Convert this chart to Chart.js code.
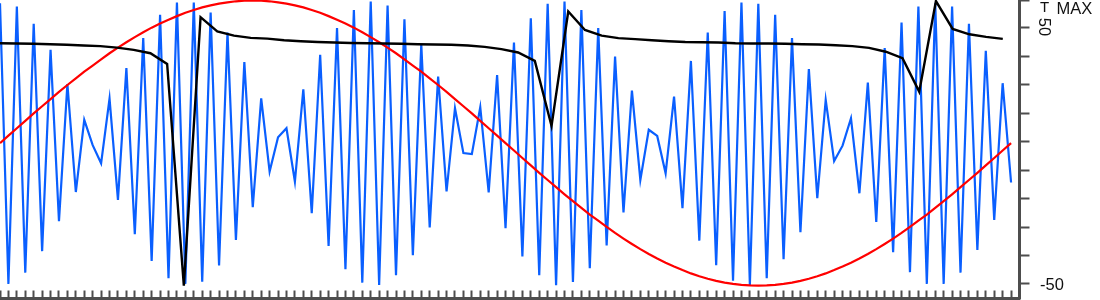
<!DOCTYPE html>
<html>
<head>
<meta charset="utf-8">
<script src="https://cdn.jsdelivr.net/npm/chart.js@4.4.1/dist/chart.umd.min.js"></script>
<style>
  html, body { margin: 0; padding: 0; background: #fff; }
  #wrap { width: 1100px; height: 300px; position: relative; }
</style>
</head>
<body>
<div id="wrap"><canvas id="chart"></canvas></div>
<script>
// x slots: 122 for the fast series, 62 for the slow (black) one
const fastLabels = Array.from({ length: 122 }, (_, i) => i);
const slowLabels = Array.from({ length: 62 }, (_, i) => i);

const blueValues = [
  59.6, -50.0, 58.3, -45.6, 51.6, -37.2, 41.4, -25.5, 28.1, -14.1,
  14.1, 4.2, -2.9, 22.4, -17.2, 34.3, -30.6, 46.0, -41.0, 55.1,
  -47.8, 59.9, -50.0, 59.9, -49.1, 56.0, -42.8, 48.2, -32.8, 36.7,
  -20.0, 22.5, -6.1, 7.3, 10.8, -10.0, 26.0, -22.4, 39.5, -35.2,
  49.9, -44.3, 57.0, -49.5, 60.3, -50.4, 58.7, -46.6, 53.4, -38.8,
  43.6, -27.9, 31.0, -13.9, 18.6, 1.1, 0.7, 19.0, -14.3, 31.6,
  -28.2, 44.3, -39.3, 53.8, -46.6, 59.4, -50.5, 60.3, -49.2, 57.0,
  -43.9, 49.9, -35.0, 38.8, -22.1, 25.5, -9.4, 10.2, 7.8, -6.8,
  23.2, -20.4, 37.1, -33.1, 48.2, -42.7, 56.6, -48.8, 59.9, -50.4,
  59.4, -47.8, 55.1, -40.4, 46.0, -29.8, 33.9, -16.5, 21.9, -2.0,
  4.0, 14.7, -14.6, 28.6, -25.8, 42.1, -37.6, 52.1, -45.4, 58.3,
  -50.0, 59.6, -50.0, 58.3, -45.6, 51.6, -36.7, 41.1, -25.0, 28.4,
  -10.4
];

const redValues = [
  5.0, 7.9, 10.8, 13.7, 16.6, 19.4, 22.2, 25.0, 27.7, 30.3,
  32.9, 35.3, 37.7, 40.1, 42.3, 44.4, 46.4, 48.3, 50.1, 51.7,
  53.2, 54.6, 55.9, 57.0, 58.0, 58.8, 59.5, 60.0, 60.4, 60.6,
  60.7, 60.6, 60.4, 60.0, 59.5, 58.8, 58.0, 57.0, 55.9, 54.6,
  53.2, 51.7, 50.1, 48.3, 46.4, 44.4, 42.3, 40.1, 37.7, 35.3,
  32.9, 30.3, 27.7, 25.0, 22.2, 19.4, 16.6, 13.7, 10.8, 7.9,
  5.0, 2.1, -0.8, -3.7, -6.6, -9.4, -12.2, -15.0, -17.7, -20.3,
  -22.9, -25.3, -27.7, -30.1, -32.3, -34.4, -36.4, -38.3, -40.1, -41.7,
  -43.2, -44.6, -45.9, -47.0, -48.0, -48.8, -49.5, -50.0, -50.4, -50.6,
  -50.7, -50.6, -50.4, -50.0, -49.5, -48.8, -48.0, -47.0, -45.9, -44.6,
  -43.2, -41.7, -40.1, -38.3, -36.4, -34.4, -32.3, -30.1, -27.7, -25.3,
  -22.9, -20.3, -17.7, -15.0, -12.2, -9.4, -6.6, -3.7, -0.8, 2.1,
  5.0
];

const blackValues = [
  44.0, 43.9, 43.8, 43.6, 43.4, 43.1, 42.9, 42.3, 41.4, 40.1,
  35.9, -50.7, 54.2, 48.6, 47.0, 46.1, 45.8, 45.2, 44.8, 44.5,
  44.3, 44.1, 44.0, 43.9, 43.8, 43.6, 43.5, 43.4, 43.1, 42.6,
  41.7, 40.4, 37.1, 11.7, 56.4, 49.2, 47.0, 46.0, 45.6, 45.2,
  44.8, 44.5, 44.4, 44.3, 44.0, 43.9, 43.9, 43.8, 43.6, 43.5,
  43.2, 42.9, 42.2, 40.7, 38.2, 25.1, 60.5, 49.6, 47.5, 46.5,
  45.7
];

const yMin = -55.7;
const yMax = 60.9;
const yTicks = [-50, -38.9, -27.8, -16.7, -5.6, 5.6, 16.7, 27.8, 38.9, 50, yMax];

const axisColor = '#4d4d4d';
const textColor = '#111111';
const labelFont = '16.5px "Liberation Sans", Arial, sans-serif';

// labels on the right axis are placed by hand: "50" is turned, "MAX" hangs under its tick
const axisLabels = {
    id: 'axisLabels',
    afterDraw(chart) {
        const y = chart.scales.y;
        const ctx = chart.ctx;
        ctx.save();
        ctx.fillStyle = textColor;
        ctx.textBaseline = 'alphabetic';
        ctx.textAlign = 'left';

        ctx.font = labelFont;
        ctx.fillText('MAX', y.left + 37, y.getPixelForValue(yMax) + 13.5);
        ctx.fillText('-50', y.left + 20.5, y.getPixelForValue(-50) + 6);

        ctx.font = '15px "Liberation Sans Narrow", "Liberation Sans", Arial, sans-serif';
        ctx.fillText('T', y.left + 20.5, y.getPixelForValue(yMax) + 12);

        ctx.font = labelFont;
        ctx.translate(y.left + 24.5, y.getPixelForValue(50) - 1);
        ctx.rotate(Math.PI / 2);
        ctx.textAlign = 'center';
        ctx.textBaseline = 'middle';
        ctx.fillText('50', 0, 0);
        ctx.restore();
    }
};

const ctx = document.getElementById('chart').getContext('2d');
new Chart(ctx, {
    type: 'line',
    data: {
        labels: fastLabels,
        datasets: [
            {
                label: 'Black',
                data: blackValues,
                xAxisID: 'x2',
                borderColor: '#000000',
                borderWidth: 2.4,
                pointRadius: 0,
                tension: 0,
                fill: false
            },
            {
                label: 'Red',
                data: redValues,
                borderColor: '#ff0000',
                borderWidth: 2.2,
                pointRadius: 0,
                tension: 0,
                fill: false
            },
            {
                label: 'Blue',
                data: blueValues,
                borderColor: '#0a5fff',
                borderWidth: 2.2,
                pointRadius: 0,
                tension: 0,
                fill: false
            }
        ]
    },
    options: {
        responsive: true,
        maintainAspectRatio: false,
        animation: false,
        layout: { padding: { top: 0, left: 0, right: 0, bottom: 1.5 } },
        plugins: {
            legend: { display: false },
            tooltip: { enabled: false }
        },
        scales: {
            x: {
                type: 'category',
                position: 'bottom',
                offset: false,
                ticks: { display: false },
                grid: {
                    drawOnChartArea: false,
                    drawTicks: true,
                    tickLength: -8,
                    tickWidth: 2,
                    tickColor: axisColor
                },
                border: { display: true, color: axisColor, width: 3 }
            },
            x2: {
                type: 'category',
                labels: slowLabels,
                display: false,
                offset: false
            },
            y: {
                position: 'right',
                min: yMin,
                max: yMax,
                afterBuildTicks: scale => {
                    scale.ticks = yTicks.map(v => ({ value: v }));
                },
                afterFit: scale => { scale.width = 80.5; },
                ticks: { display: false },
                grid: {
                    drawOnChartArea: false,
                    drawTicks: true,
                    tickLength: 10,
                    tickWidth: 2,
                    tickColor: axisColor
                },
                border: { display: true, color: axisColor, width: 3 }
            }
        }
    },
    plugins: [axisLabels]
});
</script>
</body>
</html>
